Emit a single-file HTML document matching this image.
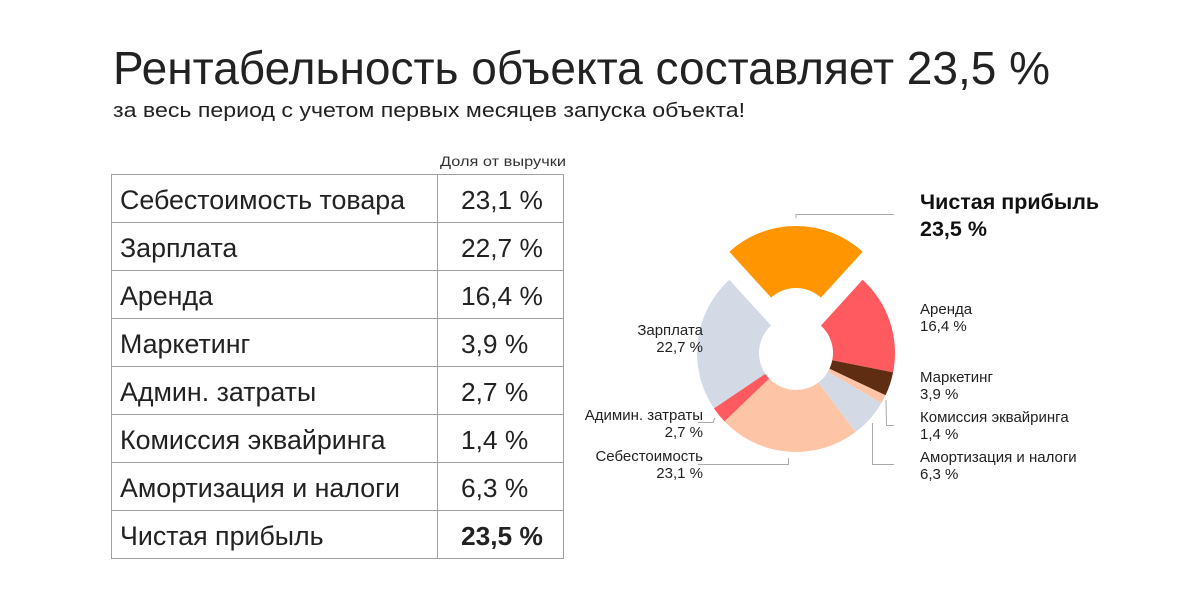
<!DOCTYPE html>
<html><head><meta charset="utf-8"><style>html,body{margin:0;padding:0;background:#fff}svg{display:block}</style></head>
<body>
<svg width="1179" height="600" viewBox="0 0 1179 600" xmlns="http://www.w3.org/2000/svg" font-family="Liberation Sans, sans-serif">
<text x="113" y="84" font-size="46" fill="#222" textLength="937" lengthAdjust="spacingAndGlyphs">Рентабельность объекта составляет 23,5 %</text>
<text x="113" y="117" font-size="20" fill="#222" textLength="632" lengthAdjust="spacingAndGlyphs">за весь период с учетом первых месяцев запуска объекта!</text>
<text x="440" y="166" font-size="14" fill="#333" textLength="126" lengthAdjust="spacingAndGlyphs">Доля от выручки</text>
<g stroke="#a0a0a0" stroke-width="1" fill="none">
<rect x="111.5" y="174.5" width="452" height="384"/>
<line x1="437.5" y1="174" x2="437.5" y2="558"/>
<line x1="111" y1="222.5" x2="563" y2="222.5"/>
<line x1="111" y1="270.5" x2="563" y2="270.5"/>
<line x1="111" y1="318.5" x2="563" y2="318.5"/>
<line x1="111" y1="366.5" x2="563" y2="366.5"/>
<line x1="111" y1="414.5" x2="563" y2="414.5"/>
<line x1="111" y1="462.5" x2="563" y2="462.5"/>
<line x1="111" y1="510.5" x2="563" y2="510.5"/>
</g>
<g font-size="26.8" fill="#222">
<text x="120" y="209">Себестоимость товара</text>
<text x="120" y="257">Зарплата</text>
<text x="120" y="305">Аренда</text>
<text x="120" y="353">Маркетинг</text>
<text x="120" y="401">Админ. затраты</text>
<text x="120" y="449">Комиссия эквайринга</text>
<text x="120" y="497">Амортизация и налоги</text>
<text x="120" y="545">Чистая прибыль</text>
</g>
<g font-size="26.3" fill="#222">
<text x="461" y="209">23,1 %</text>
<text x="461" y="257">22,7 %</text>
<text x="461" y="305">16,4 %</text>
<text x="461" y="353">3,9 %</text>
<text x="461" y="401">2,7 %</text>
<text x="461" y="449">1,4 %</text>
<text x="461" y="497">6,3 %</text>
<text x="461" y="545" font-weight="bold">23,5 %</text>
</g>
<g>
<path d="M729.37,251.78 A99,99 0 0 1 862.63,251.78 L820.90,297.63 A37,37 0 0 0 771.10,297.63 Z" fill="#FF9500"/>
<path d="M862.63,279.78 A99,99 0 0 1 893.08,372.39 L832.28,360.25 A37,37 0 0 0 820.90,325.63 Z" fill="#FF5A5F"/>
<path d="M893.08,372.39 A99,99 0 0 1 885.51,395.31 L829.45,368.81 A37,37 0 0 0 832.28,360.25 Z" fill="#5E2D12"/>
<path d="M885.51,395.31 A99,99 0 0 1 881.39,403.09 L827.91,371.72 A37,37 0 0 0 829.45,368.81 Z" fill="#FDC4A8"/>
<path d="M881.39,403.09 A99,99 0 0 1 855.44,432.17 L818.21,382.59 A37,37 0 0 0 827.91,371.72 Z" fill="#D3DAE6"/>
<path d="M855.44,432.17 A99,99 0 0 1 724.42,421.40 L769.25,378.56 A37,37 0 0 0 818.21,382.59 Z" fill="#FDC5A6"/>
<path d="M724.42,421.40 A99,99 0 0 1 713.93,408.36 L765.33,373.69 A37,37 0 0 0 769.25,378.56 Z" fill="#FF5A5F"/>
<path d="M713.93,408.36 A99,99 0 0 1 729.37,279.78 L771.10,325.63 A37,37 0 0 0 765.33,373.69 Z" fill="#D3DAE6"/>
</g>
<g stroke="#aaa" stroke-width="1" fill="none">
<polyline points="796,218 796,214.5 894,214.5"/>
<polyline points="886,400 886.5,425.5 894,425.5"/>
<polyline points="872.5,423 872.5,464.5 894,464.5"/>
<polyline points="715,418 713,422.5 698,422.5"/>
<polyline points="788.5,458 788.5,464.5 698,464.5"/>
</g>
<text x="920" y="209" font-size="21.5" font-weight="bold" fill="#111">Чистая прибыль</text>
<text x="920" y="236" font-size="21.5" font-weight="bold" fill="#111">23,5 %</text>
<g font-size="15" fill="#222">
<text x="920" y="314">Аренда</text><text x="920" y="331">16,4 %</text>
<text x="920" y="382">Маркетинг</text><text x="920" y="399">3,9 %</text>
<text x="920" y="422">Комиссия эквайринга</text><text x="920" y="439">1,4 %</text>
<text x="920" y="462">Амортизация и налоги</text><text x="920" y="479">6,3 %</text>
</g>
<g font-size="15" fill="#222" text-anchor="end">
<text x="703" y="335">Зарплата</text><text x="703" y="352">22,7 %</text>
<text x="703" y="420">Адимин. затраты</text><text x="703" y="437">2,7 %</text>
<text x="703" y="461">Себестоимость</text><text x="703" y="478">23,1 %</text>
</g>
</svg>
</body></html>
